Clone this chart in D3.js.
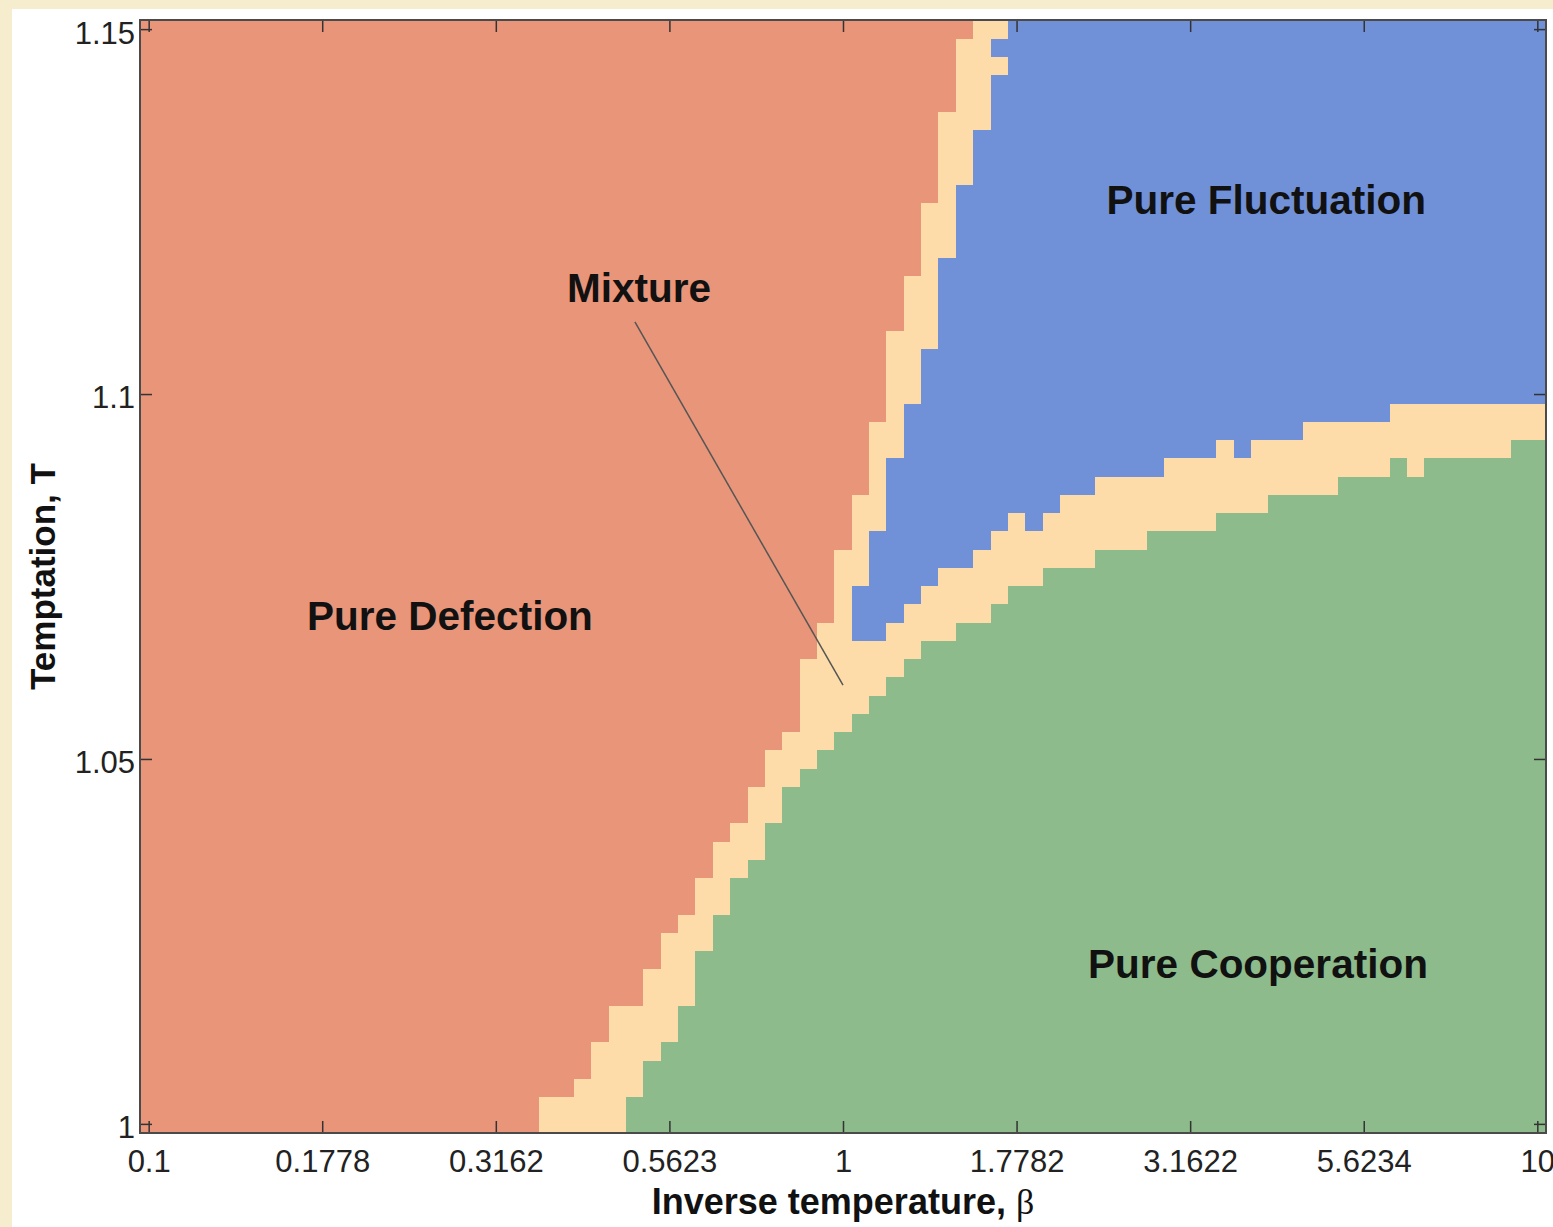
<!DOCTYPE html>
<html>
<head>
<meta charset="utf-8">
<script src="https://cdn.jsdelivr.net/npm/d3@7"></script>
<style>
body { margin: 0; background: #fff; }
text { font-family: "Liberation Sans", Arial, Helvetica, sans-serif; }
</style>
</head>
<body>
<div id="chart"></div>
<script>

// simulation grid: log10(beta) in -1..1 (81 steps), T in 1..1.15 (61 steps)
var logBetaStep = 0.025, nBeta = 81;
var tStep = 0.0025, nT = 61;

// per T-row (row 0 = T 1): first column that is no longer pure defection
var defEnd = [23,23,25,26,26,27,27,29,29,30, 30,31,32,32,33,33,34,35,35,36,
              36,37,38,38,38,38,39,39,40,40, 40,40,41,41,41,42,42,42,42,43,
              43,43,43,43,44,44,44,45,45,45, 45,46,46,46,46,46,47,47,47,47, 48];

// per T-row: first column of pure fluctuation (null = none in that row)
var flucStart = [null,null,null,null,null,null,null,null,null,null,
                 null,null,null,null,null,null,null,null,null,null,
                 null,null,null,null,null,null,null,
                 41,41,41,42,42,42,43,43,43,43,44,44,44,45,45,45,
                 46,46,46,46,46,47,47,47,47,48,48,48,49,49,49,50,49,50];

// per beta-column: number of rows (from T=1 up) that are pure cooperation
var coopTop = [0,0,0,0,0,0,0,0,0,0, 0,0,0,0,0,0,0,0,0,0, 0,0,0,0,0,0,0,0,
               2,4,5,7,10,12,14,15,17,19,20,21,22,23,24,25,26,27,27,28,28,29,
               30,30,31,31,31,32,32,32,33,33,33,33,34,34,34,35,35,35,35,
               36,36,36,37,36,37,37,37,37,37,38,38];

// per beta-column: first row of pure fluctuation (61 = none)
var flucBottom = [61,61,61,61,61,61,61,61,61,61, 61,61,61,61,61,61,61,61,61,61,
                  61,61,61,61,61,61,61,61,61,61, 61,61,61,61,61,61,61,61,61,61, 61,
                  27,27,28,29,30,31,31,32,33,34, 33,34,35,35,36,36,36,36,37,37,
                  37,38,37,38,38,38,39,39,39,39, 39,40,40,40,40,40,40,40,40,40];

var betaTicks = [0.1, 0.1778, 0.3162, 0.5623, 1, 1.7782, 3.1622, 5.6234, 10];
var tTicks = [1, 1.05, 1.1, 1.15];

var phaseColor = {D: "#E8957A", M: "#FDDCA9", F: "#7090D8", C: "#8DBB8B"};

// region labels, placed in (beta, T)
var regionNames = ["Pure Fluctuation", "Mixture", "Pure Defection", "Pure Cooperation"];
var regionBeta = [4.07, 0.5085, 0.2716, 3.96];
var regionT = [1.1247, 1.1126, 1.0677, 1.0200];

// pointer from the "Mixture" label
var pointerBeta = [0.5015, 1];
var pointerT = [1.1099, 1.0601];

var W = 1553, H = 1227;
var plot = {left: 140, top: 20, right: 1546, bottom: 1133};

function phaseOf(i, j) {
    if (i < defEnd[j]) { return "D"; }
    if (j < coopTop[i]) { return "C"; }
    if (flucStart[j] !== null && i >= flucStart[j] && j >= flucBottom[i]) { return "F"; }
    return "M";
}

var svg = d3.select("#chart").append("svg")
    .attr("width", W)
    .attr("height", H);

// page background (beige strip on left/top)
svg.append("rect").attr("width", W).attr("height", H).attr("fill", "#F6EDCF");
svg.append("rect").attr("x", 12).attr("y", 9).attr("width", W - 12).attr("height", H - 9).attr("fill", "#fff");

var x = d3.scaleLog()
    .domain([Math.pow(10, -1 - logBetaStep / 2), Math.pow(10, 1 + logBetaStep / 2)])
    .range([plot.left, plot.right]);

var y = d3.scaleLinear()
    .domain([1 - tStep / 2, 1.15 + tStep / 2])
    .range([plot.bottom, plot.top]);

//building the cells
var cells = [];
for (var j = 0; j < nT; j++) {
    for (var i = 0; i < nBeta; i++) {
        cells.push({i: i, j: j, phase: phaseOf(i, j)});
    }
}

function cellX0(d) { return x(Math.pow(10, -1 + d.i * logBetaStep - logBetaStep / 2)); }
function cellX1(d) { return x(Math.pow(10, -1 + d.i * logBetaStep + logBetaStep / 2)); }
function cellY0(d) { return y(1 + d.j * tStep + tStep / 2); }
function cellY1(d) { return y(1 + d.j * tStep - tStep / 2); }

svg.append("g")
    .attr("shape-rendering", "crispEdges")
    .selectAll("rect")
    .data(cells)
    .enter().append("rect")
    .attr("x", cellX0)
    .attr("y", cellY0)
    .attr("width", function (d) { return cellX1(d) - cellX0(d) + 0.5; })
    .attr("height", function (d) { return cellY1(d) - cellY0(d) + 0.5; })
    .attr("fill", function (d) { return phaseColor[d.phase]; });

// axes, ticks pointing inwards
function styleAxis(g) {
    g.select(".domain").remove();
    g.selectAll(".tick line").attr("stroke", "#333").attr("stroke-width", 1.5);
    g.selectAll(".tick text")
        .attr("fill", "#222")
        .attr("font-size", 31)
        .attr("font-family", "Liberation Sans, Arial, sans-serif");
}

svg.append("g")
    .attr("transform", "translate(0," + plot.bottom + ")")
    .call(d3.axisBottom(x).tickValues(betaTicks).tickFormat(function (d) { return d; })
        .tickSizeInner(-12).tickSizeOuter(0).tickPadding(17))
    .call(styleAxis);

svg.append("g")
    .attr("transform", "translate(0," + plot.top + ")")
    .call(d3.axisTop(x).tickValues(betaTicks).tickFormat("").tickSizeInner(-12).tickSizeOuter(0))
    .call(styleAxis);

svg.append("g")
    .attr("transform", "translate(" + plot.left + ",0)")
    .call(d3.axisLeft(y).tickValues(tTicks).tickFormat(function (d) { return d; })
        .tickSizeInner(-12).tickSizeOuter(0).tickPadding(5))
    .call(styleAxis)
    .selectAll(".tick text").attr("dy", "0.45em");

svg.append("g")
    .attr("transform", "translate(" + plot.right + ",0)")
    .call(d3.axisRight(y).tickValues(tTicks).tickFormat("").tickSizeInner(-12).tickSizeOuter(0))
    .call(styleAxis);

// frame
svg.append("rect")
    .attr("x", plot.left)
    .attr("y", plot.top)
    .attr("width", plot.right - plot.left)
    .attr("height", plot.bottom - plot.top)
    .attr("fill", "none")
    .attr("stroke", "#4a4a4a")
    .attr("stroke-width", 2);

// pointer line for Mixture
svg.append("line")
    .attr("x1", x(pointerBeta[0])).attr("y1", y(pointerT[0]))
    .attr("x2", x(pointerBeta[1])).attr("y2", y(pointerT[1]))
    .attr("stroke", "#555")
    .attr("stroke-width", 1.5);

// region labels
svg.selectAll(".regionLabel")
    .data(regionNames)
    .enter().append("text")
    .attr("class", "regionLabel")
    .attr("x", function (d, k) { return x(regionBeta[k]); })
    .attr("y", function (d, k) { return y(regionT[k]); })
    .attr("text-anchor", "middle")
    .attr("font-size", 40.5)
    .attr("font-weight", "bold")
    .attr("fill", "#111")
    .text(function (d) { return d; });

// axis titles
var xTitle = svg.append("text")
    .attr("x", x(1))
    .attr("y", 1214)
    .attr("text-anchor", "middle")
    .attr("font-size", 36)
    .attr("font-weight", "bold")
    .attr("fill", "#111");
xTitle.append("tspan").text("Inverse temperature, ");
xTitle.append("tspan")
    .attr("font-family", "Liberation Serif, DejaVu Serif, serif")
    .attr("font-weight", "normal")
    .text("β");

svg.append("text")
    .attr("transform", "translate(55," + y(1.075) + ") rotate(-90)")
    .attr("text-anchor", "middle")
    .attr("font-size", 35)
    .attr("font-weight", "bold")
    .attr("fill", "#111")
    .text("Temptation, T");

</script>
</body>
</html>
